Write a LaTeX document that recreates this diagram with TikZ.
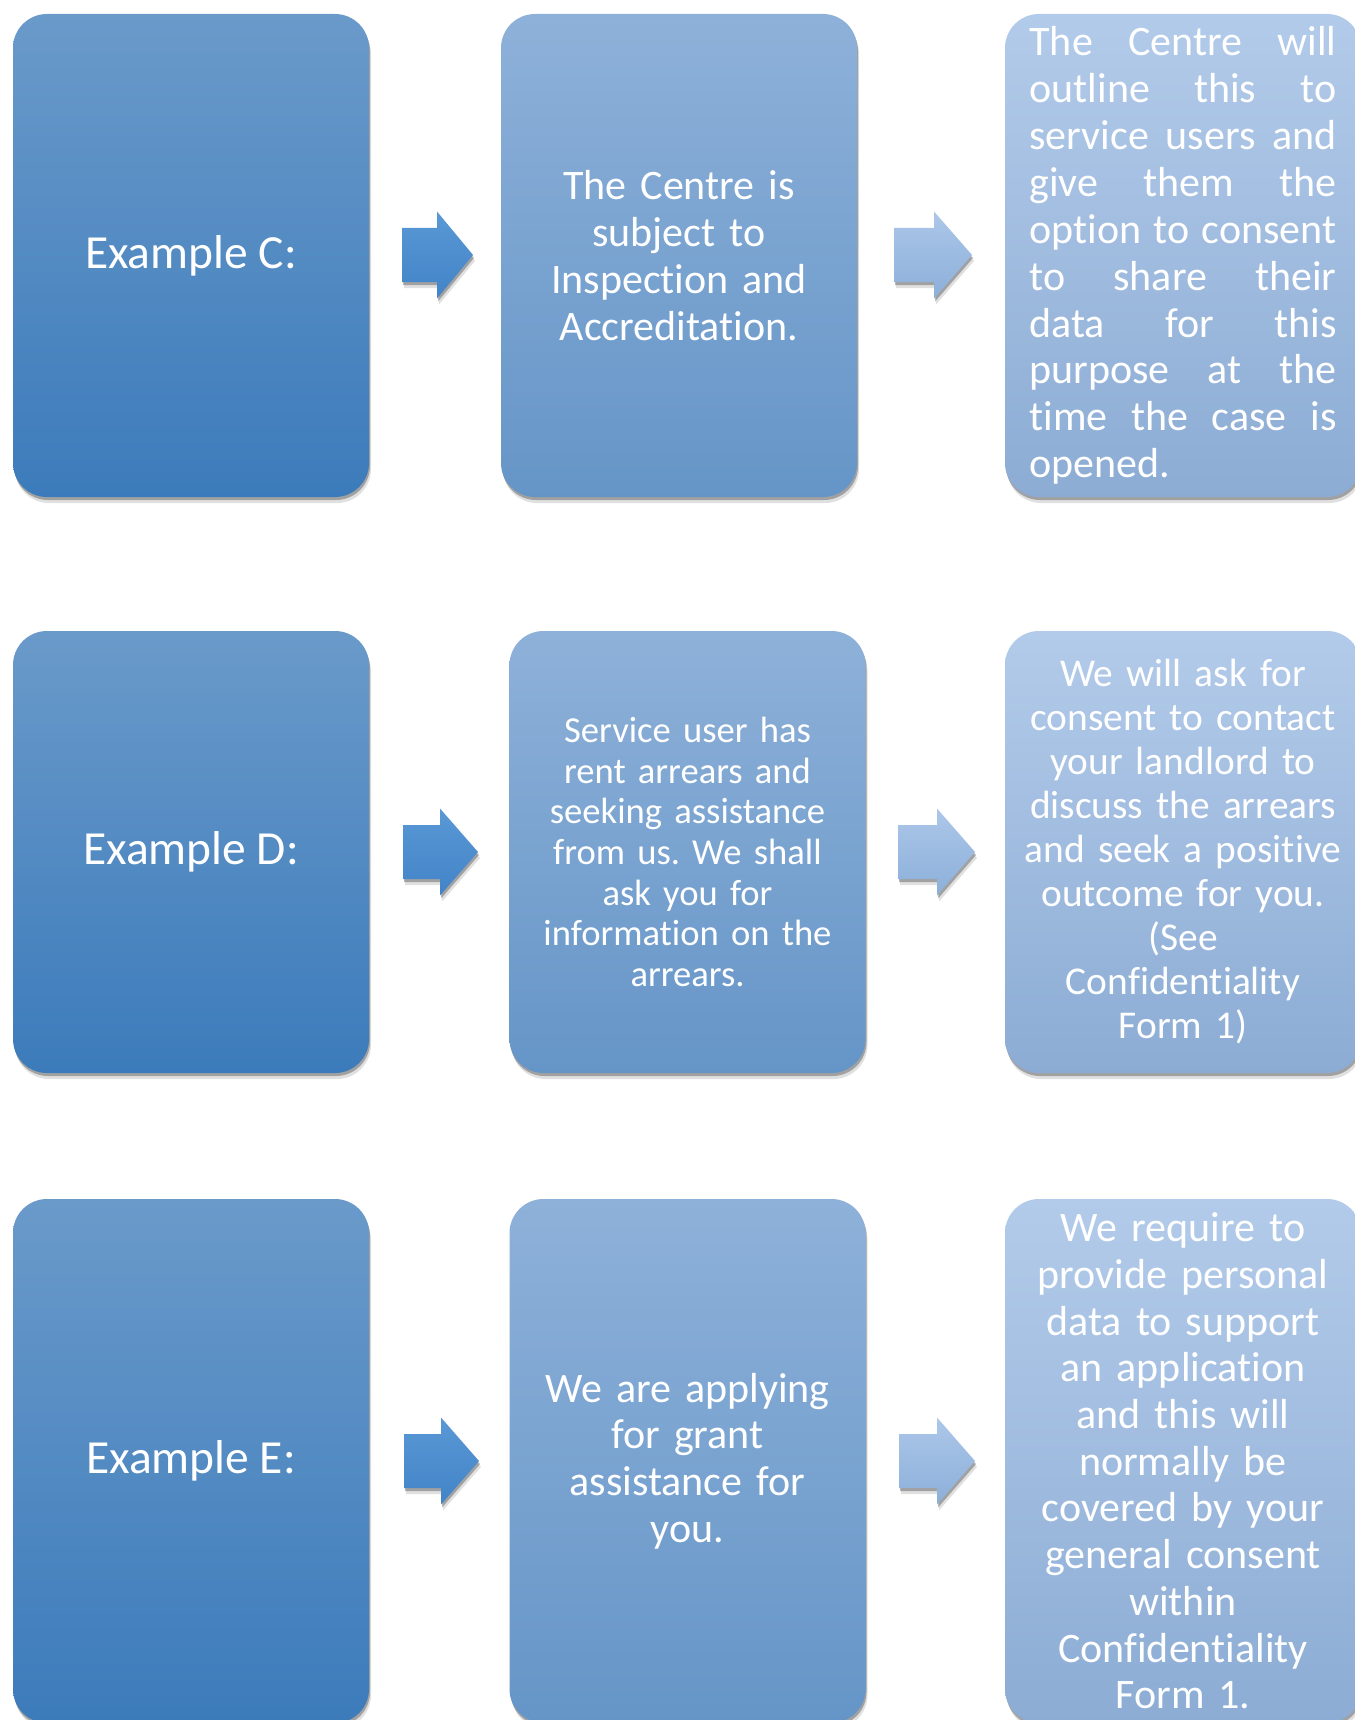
\documentclass[tikz,border=0pt]{standalone}
\usepackage{fontspec}
\setmainfont{Carlito}[Ligatures={NoCommon,NoRare,NoContextual}]
\usetikzlibrary{shadows}
\frenchspacing
\definecolor{cAtop}{RGB}{106,154,202}
\definecolor{cAbot}{RGB}{60,123,187}
\definecolor{cBtop}{RGB}{142,177,217}
\definecolor{cBbot}{RGB}{101,149,199}
\definecolor{cCtop}{RGB}{179,203,234}
\definecolor{cCbot}{RGB}{140,172,212}
\definecolor{aAtop}{RGB}{90,152,213}
\definecolor{aAbot}{RGB}{66,132,200}
\definecolor{aBtop}{RGB}{172,199,233}
\definecolor{aBbot}{RGB}{140,175,217}
\tikzset{
  softshadow/.style={
    drop shadow={shadow xshift=1pt,shadow yshift=-3pt,opacity=.28,fill=black},
    drop shadow={shadow xshift=2pt,shadow yshift=-6pt,opacity=.12,fill=black}},
  boxbase/.style={rounded corners=34pt, minimum width=356pt, inner sep=0pt,
    text=white, softshadow},
  boxA/.style={boxbase, top color=cAtop, bottom color=cAbot, align=center},
  boxB/.style={boxbase, top color=cBtop, bottom color=cBbot, align=center},
  boxC/.style={boxbase, top color=cCtop, bottom color=cCbot, align=center},
  arrA/.style={top color=aAtop, bottom color=aAbot, softshadow},
  arrB/.style={top color=aBtop, bottom color=aBbot, softshadow},
}
% arrow: #1 tail x, #2 head start x, #3 tip x, #4 centre y, #5 style
\newcommand{\flowarrow}[5]{%
  \path[#5] (#1,#4-27) -- (#2,#4-27) -- (#2,#4-43.5) -- (#3,#4)
    -- (#2,#4+43.5) -- (#2,#4+27) -- (#1,#4+27) -- cycle;}
\newcommand{\jthree}[3]{\leavevmode\hbox to 307pt{#1\hfill #2\hfill #3}}
\newcommand{\jfour}[4]{\leavevmode\hbox to 307pt{#1\hfill #2\hfill #3\hfill #4}}
\begin{document}
\begin{tikzpicture}[x=1pt,y=-1pt]
\useasboundingbox[fill=white] (0,0) rectangle (1354,1720);

% ---------- Row 1 ----------
\node[boxA, minimum height=483pt, font=\fontsize{47.5}{54}\selectfont] (c1) at (191,255.5) {Example C:};
\node[boxB, minimum height=483pt, text width=330pt, font=\fontsize{42}{46.8}\selectfont] (c2) at (679,255.5)
  {The Centre is\\subject to\\Inspection and\\Accreditation.};
\node[boxC, minimum height=483pt, text width=307pt, align=left, font=\fontsize{42}{46.9}\selectfont] (c3) at (1183,255.5)
  {\jthree{The}{Centre}{will}\\
   \jthree{outline}{this}{to}\\
   \jthree{service}{users}{and}\\
   \jthree{give}{them}{the}\\
   \jthree{option}{to}{consent}\\
   \jthree{to}{share}{their}\\
   \jthree{data}{for}{this}\\
   \jthree{purpose}{at}{the}\\
   \jfour{time}{the}{case}{is}\\
   opened.};
\flowarrow{402}{437}{473}{255}{arrA}
\flowarrow{894}{934}{972}{255}{arrB}

% ---------- Row 2 ----------
\node[boxA, minimum height=442pt, font=\fontsize{47.5}{54}\selectfont] (d1) at (191,852) {Example D:};
\node[boxB, minimum height=442pt, text width=330pt, font=\fontsize{36.6}{40.7}\selectfont] (d2) at (687.5,852)
  {Service user has\\rent arrears and\\seeking assistance\\from us. We shall\\ask you for\\information on the\\arrears.};
\node[boxC, minimum height=442pt, text width=330pt, font=\fontsize{39.4}{44}\selectfont] (d3) at (1183,852)
  {We will ask for\\consent to contact\\your landlord to\\discuss the arrears\\and seek a positive\\outcome for you.\\(See\\Confidentiality\\Form 1)};
\flowarrow{403}{440}{478}{852}{arrA}
\flowarrow{898}{937}{975}{852}{arrB}

% ---------- Row 3 ----------
\node[boxA, minimum height=524pt, font=\fontsize{47.5}{54}\selectfont] (e1) at (191,1461) {Example E:};
\node[boxB, minimum height=524pt, text width=330pt, font=\fontsize{42}{46.7}\selectfont] (e2) at (687.5,1461)
  {We are applying\\for grant\\assistance for\\you.};
\node[boxC, minimum height=524pt, text width=330pt, font=\fontsize{42}{46.7}\selectfont] (e3) at (1183,1461)
  {We require to\\provide personal\\data to support\\an application\\and this will\\normally be\\covered by your\\general consent\\within\\Confidentiality\\Form 1.};
\flowarrow{404}{441}{479}{1461}{arrA}
\flowarrow{899}{937}{975}{1461}{arrB}
\end{tikzpicture}
\end{document}
